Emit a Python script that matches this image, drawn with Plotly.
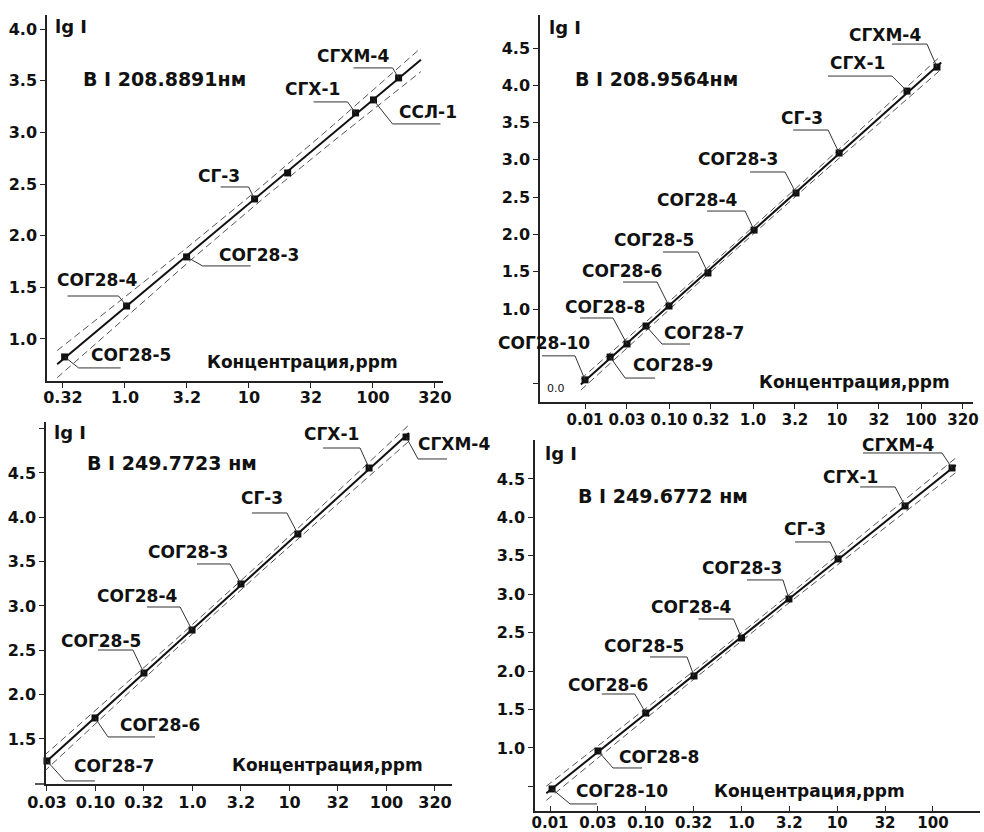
import numpy as np
import plotly.graph_objects as go

W, H = 984, 832

# ---------------- data ----------------
p1_names = ["СОГ28-5", "СОГ28-4", "СОГ28-3", "СГ-3", "", "СГХ-1", "ССЛ-1", "СГХМ-4"]
p1_conc = [0.326, 1.03, 3.14, 11.1, 20.5, 72.4, 101, 161]
p1_lgI = [0.826, 1.319, 1.794, 2.355, 2.607, 3.188, 3.314, 3.527]

p2_names = ["СОГ28-10", "СОГ28-9", "СОГ28-8", "СОГ28-7", "СОГ28-6", "СОГ28-5",
            "СОГ28-4", "СОГ28-3", "СГ-3", "СГХ-1", "СГХМ-4"]
p2_conc = [0.010, 0.0199, 0.0316, 0.0532, 0.100, 0.291, 1.03, 3.25, 10.6, 68.1, 155]
p2_lgI = [0.05, 0.356, 0.531, 0.772, 1.04, 1.483, 2.059, 2.556, 3.092, 3.923, 4.245]

p3_names = ["СОГ28-7", "СОГ28-6", "СОГ28-5", "СОГ28-4", "СОГ28-3", "СГ-3", "СГХ-1", "СГХМ-4"]
p3_conc = [0.0316, 0.0989, 0.316, 0.99, 3.16, 12.2, 66.1, 159]
p3_lgI = [1.252, 1.737, 2.244, 2.729, 3.248, 3.812, 4.556, 4.906]

p4_names = ["СОГ28-10", "СОГ28-8", "СОГ28-6", "СОГ28-5", "СОГ28-4", "СОГ28-3",
            "СГ-3", "СГХ-1", "СГХМ-4"]
p4_conc = [0.0105, 0.0317, 0.100, 0.319, 1.0, 3.13, 10.2, 51.1, 158]
p4_lgI = [0.467, 0.961, 1.455, 1.937, 2.431, 2.939, 3.459, 4.149, 4.643]

titles = ["B I 208.8891нм", "B I 208.9564нм", "B I 249.7723 нм", "B I 249.6772 нм"]
y_title = "lg I"
x_title = "Концентрация,ppm"

p1_xtick_vals = [0.316, 1.0, 3.16, 10, 31.6, 100, 316]
p1_xtick_text = ["0.32", "1.0", "3.2", "10", "32", "100", "320"]
p2_xtick_vals = [0.01, 0.0316, 0.1, 0.316, 1.0, 3.16, 10, 31.6, 100, 316]
p2_xtick_text = ["0.01", "0.03", "0.10", "0.32", "1.0", "3.2", "10", "32", "100", "320"]
p3_xtick_vals = [0.0316, 0.1, 0.316, 1.0, 3.16, 10, 31.6, 100, 316]
p3_xtick_text = ["0.03", "0.10", "0.32", "1.0", "3.2", "10", "32", "100", "320"]
p4_xtick_vals = [0.01, 0.0316, 0.1, 0.316, 1.0, 3.16, 10, 31.6, 100]
p4_xtick_text = ["0.01", "0.03", "0.10", "0.32", "1.0", "3.2", "10", "32", "100"]

p1_ytick_vals = [1.0, 1.5, 2.0, 2.5, 3.0, 3.5, 4.0]
p1_ytick_text = ["1.0", "1.5", "2.0", "2.5", "3.0", "3.5", "4.0"]
p2_ytick_vals = [0.0, 1.0, 1.5, 2.0, 2.5, 3.0, 3.5, 4.0, 4.5]
p2_ytick_text = ["", "1.0", "1.5", "2.0", "2.5", "3.0", "3.5", "4.0", "4.5"]
p3_ytick_vals = [1.5, 2.0, 2.5, 3.0, 3.5, 4.0, 4.5, 5.0]
p3_ytick_text = ["1.5", "2.0", "2.5", "3.0", "3.5", "4.0", "4.5", ""]
p4_ytick_vals = [0.5, 1.0, 1.5, 2.0, 2.5, 3.0, 3.5, 4.0, 4.5]
p4_ytick_text = ["", "1.0", "1.5", "2.0", "2.5", "3.0", "3.5", "4.0", "4.5"]

# ---------------- layout / style (pixel geometry) ----------------
def fx(px):
    return px / W

def fy(py):
    return 1 - py / H

FONT = "DejaVu Sans"
BLACK = "#111111"

# plot boxes in pixels: (left, right, top, bottom)
boxes = [(47, 443, 15, 381), (540, 973, 15, 402), (46, 452, 422, 784), (535, 980, 440, 811)]
xranges = [(-0.629, 2.565), (-2.536, 2.619), (-1.51, 2.675), (-2.157, 2.491)]
yranges = [(0.593, 4.136), (-0.247, 4.943), (0.992, 5.075), (0.180, 5.007)]
ext = [(0.06, 0.18), (0.05, 0.05), (0.03, 0.03), (0.06, 0.04)]
band_c = [0.065, 0.045, 0.05, 0.05]
xtick_size = [16, 15, 16, 15]
xtick_standoff = [-4, -2, -2, -3]
xtick_dir = ["outside", "outside", "outside", "inside"]

# label geometry per point: (knee dx, knee dy, horizontal end dx, text dx, text dy), screen px
lab1 = [(14, 11, 56, 66, -2), (-8, -10, -59, -30, -26), (16, 9, 64, 72, -2), (-6, -12, -34, -36, -23),
        None, (-8, -11, -42, -43, -24), (19, 24, 67, 55, 12), (-6, -10, -45, -46, -22)]
lab2 = [(-10, -24, -43, -41, -37), (15, 21, 45, 63, 8), (-14, -26, -47, -22, -37), (16, 18, 44, 58, 7),
        (-12, -24, -46, -47, -35), (-10, -21, -45, -54, -33), (-9, -19, -47, -57, -30),
        (-11, -21, -46, -58, -34), (-11, -23, -46, -37, -35), (-15, -15, -79, -49, -28),
        (-10, -23, -45, -52, -32)]
lab3 = [(18, 20, 48, 67, 5), (13, 19, 60, 65, 7), (-11, -23, -46, -43, -32), (-12, -23, -45, -55, -34),
        (-11, -20, -44, -53, -32), (-11, -21, -46, -36, -36), (-9, -20, -46, -38, -34), (12, 22, 41, 48, 7)]
lab4 = [(18, 15, 45, 70, 2), (15, 17, 44, 61, 6), (-11, -19, -44, -38, -28), (-7, -19, -44, -50, -30),
        (-8, -19, -43, -51, -31), (-6, -19, -42, -47, -31), (-8, -17, -43, -33, -30),
        (-10, -19, -45, -55, -29), (-10, -15, -89, -54, -23)]

title_pos = [(81, 79), (573, 79), (85, 463), (576, 496)]
ylab_pos = [(53, 26), (547, 27), (52, 432), (543, 454)]
xlab_pos = [(205, 362), (757, 382), (230, 765), (712, 791)]

panels = [
    (p1_names, p1_conc, p1_lgI, lab1, p1_xtick_vals, p1_xtick_text, p1_ytick_vals, p1_ytick_text),
    (p2_names, p2_conc, p2_lgI, lab2, p2_xtick_vals, p2_xtick_text, p2_ytick_vals, p2_ytick_text),
    (p3_names, p3_conc, p3_lgI, lab3, p3_xtick_vals, p3_xtick_text, p3_ytick_vals, p3_ytick_text),
    (p4_names, p4_conc, p4_lgI, lab4, p4_xtick_vals, p4_xtick_text, p4_ytick_vals, p4_ytick_text),
]

fig = go.Figure()
shapes = []
annotations = []
layout = {}

for k, (names, conc, lgI, labs, xtv, xtt, ytv, ytt) in enumerate(panels):
    sfx = "" if k == 0 else str(k + 1)
    xr, yr = "x" + sfx, "y" + sfx
    L, R, T, B = boxes[k]

    lx = np.log10(np.array(conc, dtype=float))
    yv = np.array(lgI, dtype=float)
    slope, icpt = np.polyfit(lx, yv, 1)
    n = len(lx)
    m = lx.mean()
    sxx = ((lx - m) ** 2).sum()
    gx = np.linspace(lx.min() - ext[k][0], lx.max() + ext[k][1], 80)
    gy = icpt + slope * gx
    hw = band_c[k] * np.sqrt(1 + n * (gx - m) ** 2 / sxx)

    for sign in (1, -1):
        fig.add_trace(go.Scatter(x=10 ** gx, y=gy + sign * hw, mode="lines", xaxis=xr, yaxis=yr,
                                 line=dict(color="#555555", width=1, dash="7px,4px"),
                                 hoverinfo="skip", cliponaxis=False))
    fig.add_trace(go.Scatter(x=10 ** gx, y=gy, mode="lines", xaxis=xr, yaxis=yr,
                             line=dict(color=BLACK, width=2), hoverinfo="skip", cliponaxis=False))
    fig.add_trace(go.Scatter(x=conc, y=lgI, mode="markers", xaxis=xr, yaxis=yr,
                             marker=dict(symbol="square", size=7, color=BLACK), text=names,
                             cliponaxis=False))

    for name, c, v, lab in zip(names, conc, lgI, labs):
        if lab is None:
            continue
        kx, ky, hx, tx, ty = lab
        shapes.append(dict(type="path", xref=xr, yref=yr, xsizemode="pixel", ysizemode="pixel",
                           xanchor=c, yanchor=v,
                           path=f"M 0,0 L {kx},{-ky} L {hx},{-ky}",
                           line=dict(color="#333333", width=1)))
        annotations.append(dict(xref=xr, yref=yr, x=float(np.log10(c)), y=v, text=name,
                                showarrow=False, xshift=tx, yshift=-ty,
                                xanchor="center", yanchor="middle",
                                font=dict(family=FONT, size=17, color=BLACK, weight="bold")))

    axfont = dict(family=FONT, size=16, color=BLACK, weight="bold")
    layout["xaxis" + sfx] = dict(
        type="log", domain=[fx(L), fx(R)], range=list(xranges[k]), anchor=yr,
        tickmode="array", tickvals=xtv, ticktext=xtt, tickangle=0,
        tickfont=dict(family=FONT, size=xtick_size[k], color=BLACK, weight="bold"),
        ticklabelstandoff=xtick_standoff[k],
        showline=True, linecolor="#222222", linewidth=1.5, ticks=xtick_dir[k], ticklen=5,
        tickcolor="#222222", showgrid=False, zeroline=False, automargin=False)
    layout["yaxis" + sfx] = dict(
        domain=[fy(B), fy(T)], range=list(yranges[k]), anchor=xr,
        tickmode="array", tickvals=ytv, ticktext=ytt, tickfont=axfont,
        showline=True, linecolor="#222222", linewidth=1.5, ticks="outside", ticklen=5,
        tickcolor="#222222", showgrid=False, zeroline=False, automargin=False)

    tx_, ty_ = title_pos[k]
    annotations.append(dict(xref="paper", yref="paper", x=fx(tx_), y=fy(ty_), text=titles[k],
                            showarrow=False, xanchor="left", yanchor="middle",
                            font=dict(family=FONT, size=19, color=BLACK, weight="bold")))
    lx_, ly_ = ylab_pos[k]
    annotations.append(dict(xref="paper", yref="paper", x=fx(lx_), y=fy(ly_), text=y_title,
                            showarrow=False, xanchor="left", yanchor="middle",
                            font=dict(family=FONT, size=18, color=BLACK, weight="bold")))
    cx_, cy_ = xlab_pos[k]
    annotations.append(dict(xref="paper", yref="paper", x=fx(cx_), y=fy(cy_), text=x_title,
                            showarrow=False, xanchor="left", yanchor="middle",
                            font=dict(family=FONT, size=17, color=BLACK, weight="bold")))

# small "0.0" tick label inside the second panel
annotations.append(dict(xref="paper", yref="paper", x=fx(545), y=fy(388), text="0.0",
                        showarrow=False, xanchor="left", yanchor="middle",
                        font=dict(family=FONT, size=11, color=BLACK)))

# the lower-left x axis line runs a little past the y axis
shapes.append(dict(type="line", xref="paper", yref="paper", x0=fx(35), x1=fx(46),
                   y0=fy(784), y1=fy(784), line=dict(color="#222222", width=1.5)))

fig.update_layout(
    width=W, height=H, margin=dict(l=0, r=0, t=0, b=0, pad=0, autoexpand=False),
    paper_bgcolor="white", plot_bgcolor="white", showlegend=False,
    shapes=shapes, annotations=annotations, **layout)

fig.write_html("out.html", config={"displayModeBar": False},
               post_script="document.body.style.margin='0';")
